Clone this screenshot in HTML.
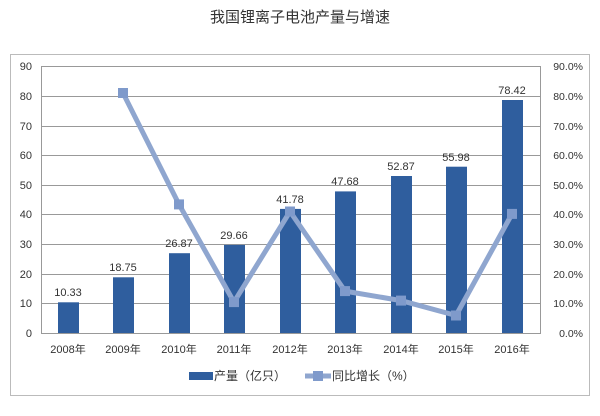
<!DOCTYPE html>
<html><head><meta charset="utf-8"><style>
body{margin:0;background:#fff;}
svg text{font-family:"Liberation Sans","Noto Sans CJK SC",sans-serif;}
</style></head><body>
<svg width="600" height="411" xmlns="http://www.w3.org/2000/svg">
<rect width="600" height="411" fill="#fff"/>
<text x="300" y="22" font-size="15" text-anchor="middle" fill="#333">我国锂离子电池产量与增速</text>
<rect x="10.5" y="54.5" width="579" height="341" fill="none" stroke="#bbb"/>
<g stroke="#999" stroke-width="1">
<line x1="41" y1="66.5" x2="541" y2="66.5"/><line x1="41" y1="96.5" x2="541" y2="96.5"/>
<line x1="41" y1="126.5" x2="541" y2="126.5"/><line x1="41" y1="155.5" x2="541" y2="155.5"/>
<line x1="41" y1="185.5" x2="541" y2="185.5"/><line x1="41" y1="214.5" x2="541" y2="214.5"/>
<line x1="41" y1="244.5" x2="541" y2="244.5"/><line x1="41" y1="274.5" x2="541" y2="274.5"/>
<line x1="41" y1="303.5" x2="541" y2="303.5"/><line x1="41" y1="333.5" x2="541" y2="333.5"/>
<line x1="41.5" y1="66" x2="41.5" y2="333"/><line x1="540.5" y1="66" x2="540.5" y2="333"/>
</g>
<g font-size="11" fill="#333" text-anchor="end">
<text x="32" y="70">90</text><text x="32" y="100">80</text><text x="32" y="130">70</text><text x="32" y="159">60</text><text x="32" y="189">50</text><text x="32" y="218">40</text><text x="32" y="248">30</text><text x="32" y="278">20</text><text x="32" y="307">10</text><text x="32" y="337">0</text>
</g>
<g font-size="10.5" fill="#333" text-anchor="end">
<text x="583" y="70">90.0%</text><text x="583" y="100">80.0%</text><text x="583" y="130">70.0%</text><text x="583" y="159">60.0%</text><text x="583" y="189">50.0%</text><text x="583" y="218">40.0%</text><text x="583" y="248">30.0%</text><text x="583" y="278">20.0%</text><text x="583" y="307">10.0%</text><text x="583" y="337">0.0%</text>
</g>
<g fill="#2f5e9e">
<rect x="58" y="302.3" width="21" height="30.7"/>
<rect x="113" y="277.3" width="21" height="55.7"/>
<rect x="169" y="253.2" width="21" height="79.8"/>
<rect x="224" y="244.9" width="21" height="88.1"/>
<rect x="280" y="208.9" width="21" height="124.1"/>
<rect x="335" y="191.4" width="21" height="141.6"/>
<rect x="391" y="176" width="21" height="157"/>
<rect x="446" y="166.7" width="21" height="166.3"/>
<rect x="502" y="100" width="21" height="233"/>
</g>
<g font-size="11" fill="#333" text-anchor="middle">
<text x="68" y="296">10.33</text><text x="123" y="271">18.75</text><text x="179" y="247">26.87</text><text x="234" y="239">29.66</text><text x="290" y="203">41.78</text><text x="345" y="185">47.68</text><text x="401" y="170">52.87</text><text x="456" y="161">55.98</text><text x="512" y="94">78.42</text>
</g>
<polyline points="123,93 179,204.4 234,302.1 290,211.5 345,291.1 401,300.6 456,315.5 512,213.9" fill="none" stroke="#8fa6cf" stroke-width="5" stroke-linejoin="round"/>
<g fill="#7f9acb">
<rect x="118" y="88" width="10" height="10"/><rect x="174" y="199.4" width="10" height="10"/><rect x="229" y="297.1" width="10" height="10"/><rect x="285" y="206.5" width="10" height="10"/><rect x="340" y="286.1" width="10" height="10"/><rect x="396" y="295.6" width="10" height="10"/><rect x="451" y="310.5" width="10" height="10"/><rect x="507" y="208.9" width="10" height="10"/>
</g>
<g font-size="11" fill="#333" text-anchor="middle">
<text x="68" y="353">2008年</text><text x="123" y="353">2009年</text><text x="179" y="353">2010年</text><text x="234" y="353">2011年</text><text x="290" y="353">2012年</text><text x="345" y="353">2013年</text><text x="401" y="353">2014年</text><text x="456" y="353">2015年</text><text x="512" y="353">2016年</text>
</g>
<rect x="189" y="372" width="24" height="8" fill="#2f5e9e"/>
<text x="214" y="380" font-size="12" fill="#333">产量（亿只）</text>
<line x1="305" y1="376" x2="331" y2="376" stroke="#8fa6cf" stroke-width="5"/>
<rect x="313" y="371" width="10" height="10" fill="#7f9acb"/>
<text x="332" y="380" font-size="12" fill="#333">同比增长（%）</text>
</svg>
</body></html>
